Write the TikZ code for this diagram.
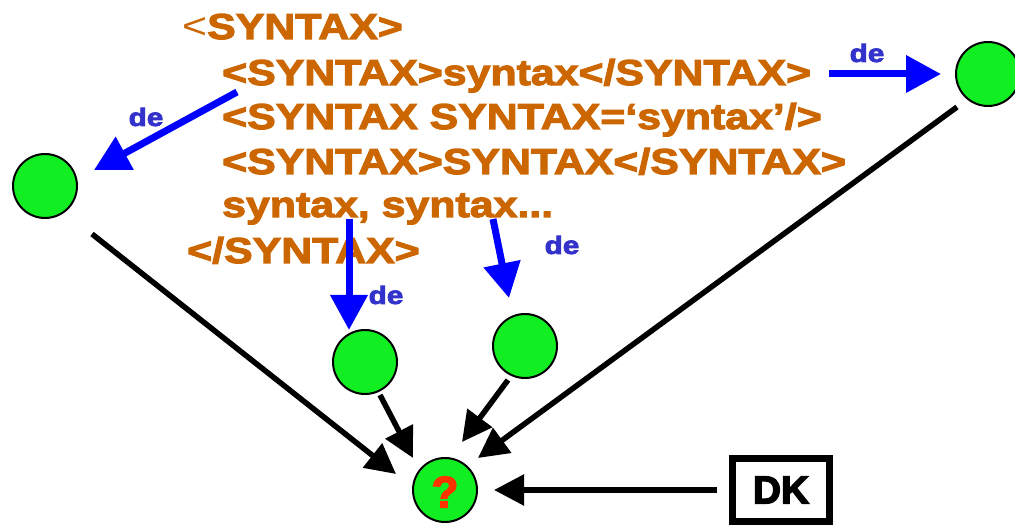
\documentclass[tikz,border=0pt]{standalone}
\usepackage{fontspec}
\usetikzlibrary{arrows.meta}
\newfontfamily\blk{Liberation Sans Bold}[FakeStretch=1.19,FakeBold=3]
\newfontfamily\regf{Liberation Sans}[FakeStretch=1.19]
\newfontfamily\bld{Liberation Sans Bold}[FakeBold=3.5]
\definecolor{orng}{HTML}{CC6600}
\definecolor{grn}{HTML}{11EE22}
\definecolor{debl}{HTML}{3333CC}
\definecolor{qred}{HTML}{FF3300}
\tikzset{
  ball/.style={circle,draw=black,fill=grn,line width=2pt,minimum size=64pt,inner sep=0pt},
  code/.style={anchor=base west,inner sep=0pt,text=orng,font=\fontsize{36}{40}\blk},
  delab/.style={inner sep=0pt,text=debl,font=\fontsize{25}{28}\blk},
  blkarrow/.style={line width=5.5pt,-{Triangle[length=30pt,width=30pt]}},
  bluarrow/.style={draw=blue,line width=7pt,-{Triangle[length=35pt,width=36pt]}},
}
\begin{document}
\begin{tikzpicture}[x=1pt,y=-1pt]
\useasboundingbox (0,0) rectangle (1015,526);
% code text
\node[code] (t1) at (182,39) {{\regf<}SYNTAX>};
\node[code] (t2) at (222,85) {<SYNTAX>syntax</SYNTAX>};
\node[code] (t3) at (222,129) {<SYNTAX SYNTAX=‘syntax’/>};
\node[code] (t4) at (222,174) {<SYNTAX>SYNTAX</SYNTAX>};
\node[code] (t5) at (222,217) {syntax, syntax...};
\node[code] (t6) at (187,263) {</SYNTAX>};
% balls
\node[ball] (cl) at (45,186) {};
\node[ball] (cr) at (988,74) {};
\node[ball] (cml) at (365,362) {};
\node[ball] (cmr) at (525,346) {};
\node[ball] (q) at (445,490) {};
\node[inner sep=0pt,text=qred,font=\fontsize{44}{46}\bld] (qm) at (445,492) {?};
% DK box
\node[draw=black,line width=6.5pt,minimum width=97pt,minimum height=63pt,inner sep=0pt,font=\fontsize{39}{40}\bld] (dk) at (781,490) {DK};
% connector end points
\coordinate (a1s) at (92,234);  \coordinate (a1e) at (396,474);
\coordinate (a2s) at (957,107); \coordinate (a2e) at (478,458);
\coordinate (a3s) at (380,395); \coordinate (a3e) at (413,458);
\coordinate (a4s) at (508,380); \coordinate (a4e) at (462,442);
\coordinate (a5s) at (717,490); \coordinate (a5e) at (494,490);
\coordinate (b1s) at (237,92);  \coordinate (b1e) at (94,170);
\coordinate (b2s) at (829,74);  \coordinate (b2e) at (941,74);
\coordinate (b3s) at (349,219); \coordinate (b3e) at (349,330);
\coordinate (b4s) at (493,219); \coordinate (b4e) at (509,298);
% black arrows
\draw[blkarrow] (a1s) -- (a1e);
\draw[blkarrow] (a2s) -- (a2e);
\draw[blkarrow] (a3s) -- (a3e);
\draw[blkarrow] (a4s) -- (a4e);
\draw[blkarrow] (a5s) -- (a5e);
% blue arrows
\draw[bluarrow] (b1s) -- (b1e);
\draw[bluarrow] (b2s) -- (b2e);
\draw[bluarrow] (b3s) -- (b3e);
\draw[bluarrow] (b4s) -- (b4e);
% labels
\node[delab] (d1) at (146,117) {de};
\node[delab] (d2) at (867,53) {de};
\node[delab] (d3) at (386,295) {de};
\node[delab] (d4) at (562,245) {de};
\end{tikzpicture}
\end{document}
